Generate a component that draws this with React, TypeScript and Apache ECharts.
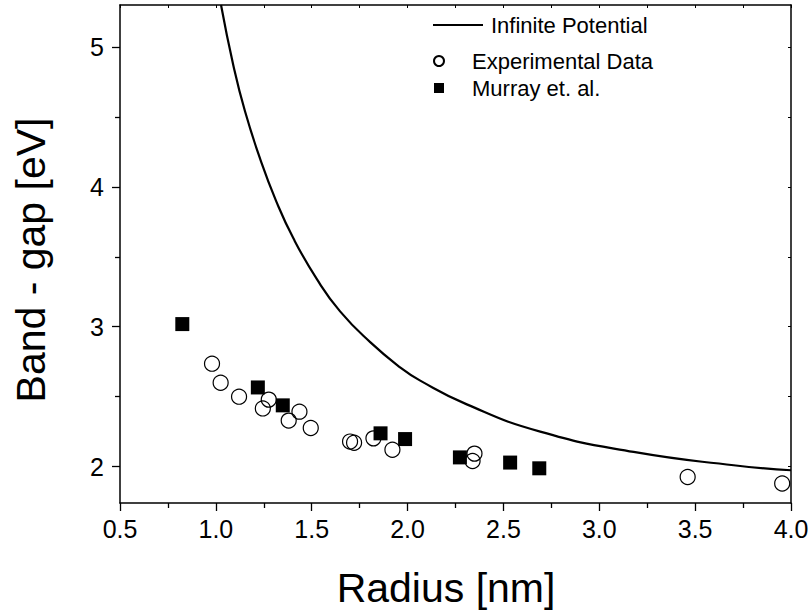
import React, { useEffect, useRef } from "react";
import * as echarts from "echarts";

// Infinite potential model curve: [radius nm, band gap eV]
const infinitePotential: [number, number][] = [
  [1.027, 5.3], [1.091, 4.87], [1.152, 4.54], [1.231, 4.2], [1.314, 3.9],
  [1.405, 3.63], [1.527, 3.34], [1.648, 3.11], [1.805, 2.89], [1.961, 2.71],
  [2.066, 2.615], [2.309, 2.445], [2.692, 2.25], [3.179, 2.105], [3.701, 2.01],
  [4.0, 1.974],
];

// Experimental data (open circles)
const experimental: [number, number][] = [
  [0.98, 2.736], [1.025, 2.6], [1.121, 2.5], [1.245, 2.416], [1.276, 2.479],
  [1.38, 2.329], [1.436, 2.393], [1.495, 2.276], [1.7, 2.179], [1.721, 2.171],
  [1.822, 2.202], [1.921, 2.121], [2.349, 2.093], [2.339, 2.04],
  [3.461, 1.926], [3.954, 1.879],
];

// Murray et. al. (filled squares)
const murray: [number, number][] = [
  [0.825, 3.019], [1.219, 2.566], [1.349, 2.438], [1.859, 2.238],
  [1.987, 2.197], [2.273, 2.066], [2.535, 2.029], [2.687, 1.988],
];

const yMajorTicks = [2, 3, 4, 5];
const yMinorTicks = [2.5, 3.5, 4.5];
const yAllTicks = [2, 2.5, 3, 3.5, 4, 4.5, 5];

const FONT = '"Liberation Sans", Arial, Helvetica, sans-serif';

export default function App() {
  const ref = useRef<HTMLDivElement>(null);
  useEffect(() => {
    if (!ref.current) return;
    const chart = echarts.init(ref.current, null, { renderer: "svg" });
    const axisLine = { show: true, lineStyle: { color: "#000", width: 1.5 } };
    const yMin = 1.74;
    const yMax = 5.3;
    chart.setOption({
      animation: false,
      backgroundColor: "#fff",
      textStyle: { fontFamily: FONT },
      grid: { left: 120, right: 21, top: 5, bottom: 112, containLabel: false },
      xAxis: [
        {
          type: "value",
          min: 0.5,
          max: 4,
          interval: 0.5,
          position: "bottom",
          axisLine,
          axisTick: { show: true, length: 8, inside: false, lineStyle: { color: "#000", width: 1.3 } },
          minorTick: { show: true, splitNumber: 2, length: 5, lineStyle: { color: "#000", width: 1.3 } },
          axisLabel: {
            color: "#000",
            fontSize: 25,
            fontFamily: FONT,
            margin: 13,
            formatter: (v: number) => v.toFixed(1),
          },
          splitLine: { show: false },
          minorSplitLine: { show: false },
        },
        {
          type: "value",
          min: 0.5,
          max: 4,
          interval: 0.5,
          position: "top",
          axisLine,
          axisTick: { show: true, length: 3, inside: true, lineStyle: { color: "#000", width: 1 } },
          minorTick: { show: true, splitNumber: 2, length: 3, lineStyle: { color: "#000", width: 1 } },
          axisLabel: { show: false },
          splitLine: { show: false },
        },
      ],
      yAxis: [
        {
          type: "value",
          min: yMin,
          max: yMax,
          position: "left",
          axisLine,
          axisTick: { show: true, length: 8, customValues: yMajorTicks, lineStyle: { color: "#000", width: 1.3 } },
          axisLabel: {
            color: "#000",
            fontSize: 25,
            fontFamily: FONT,
            margin: 16,
            customValues: yMajorTicks,
            formatter: (v: number) => String(v),
          },
          splitLine: { show: false },
        },
        {
          type: "value",
          min: yMin,
          max: yMax,
          position: "left",
          axisLine: { show: false },
          axisTick: { show: true, length: 5, customValues: yMinorTicks, lineStyle: { color: "#000", width: 1.3 } },
          axisLabel: { show: false },
          splitLine: { show: false },
        },
        {
          type: "value",
          min: yMin,
          max: yMax,
          position: "right",
          axisLine,
          axisTick: { show: true, length: 3, inside: true, customValues: yAllTicks, lineStyle: { color: "#000", width: 1 } },
          axisLabel: { show: false },
          splitLine: { show: false },
        },
      ],
      legend: [
        {
          data: [{ name: "Infinite Potential", icon: "rect" }],
          left: 433,
          top: 14,
          padding: 0,
          itemWidth: 50,
          itemHeight: 2,
          textStyle: { color: "#000", fontSize: 22, fontFamily: FONT, padding: [0, 0, 0, 3] },
          selectedMode: false,
        },
        {
          data: [
            { name: "Experimental Data" },
            { name: "Murray et. al.", icon: "path://M0,0H10V10H0Z" },
          ],
          orient: "vertical",
          left: 433,
          top: 50,
          padding: 0,
          itemWidth: 50,
          itemHeight: 10,
          itemGap: 5,
          symbolKeepAspect: true,
          textStyle: { color: "#000", fontSize: 22, fontFamily: FONT, padding: [0, 0, 0, 3] },
          selectedMode: false,
        },
      ],
      series: [
        {
          name: "Infinite Potential",
          type: "line",
          xAxisIndex: 0,
          yAxisIndex: 0,
          data: infinitePotential,
          smooth: 0.5,
          showSymbol: false,
          symbol: "none",
          clip: true,
          lineStyle: { color: "#000", width: 2.2 },
          itemStyle: { color: "#000" },
        },
        {
          name: "Murray et. al.",
          type: "scatter",
          xAxisIndex: 0,
          yAxisIndex: 0,
          data: murray,
          symbol: "rect",
          symbolSize: 14,
          itemStyle: { color: "#000", opacity: 1 },
        },
        {
          name: "Experimental Data",
          type: "scatter",
          xAxisIndex: 0,
          yAxisIndex: 0,
          data: experimental,
          symbol: "circle",
          symbolSize: 15,
          itemStyle: { color: "rgba(0,0,0,0)", borderColor: "#000", borderWidth: 1.2, opacity: 1 },
        },
      ],
      graphic: [
        {
          type: "text",
          x: 446,
          y: 588,
          style: {
            text: "Radius [nm]",
            font: `41px ${FONT}`,
            fill: "#000",
            textAlign: "center",
            textVerticalAlign: "middle",
          },
        },
        {
          type: "text",
          x: 31,
          y: 260,
          rotation: Math.PI / 2,
          style: {
            text: "Band - gap [eV]",
            font: `41px ${FONT}`,
            fill: "#000",
            textAlign: "center",
            textVerticalAlign: "middle",
          },
        },
      ],
    });
    return () => chart.dispose();
  }, []);
  return (
    <div
      ref={ref}
      style={{ position: "fixed", left: 0, top: 0, width: 812, height: 615, background: "#fff" }}
    />
  );
}
